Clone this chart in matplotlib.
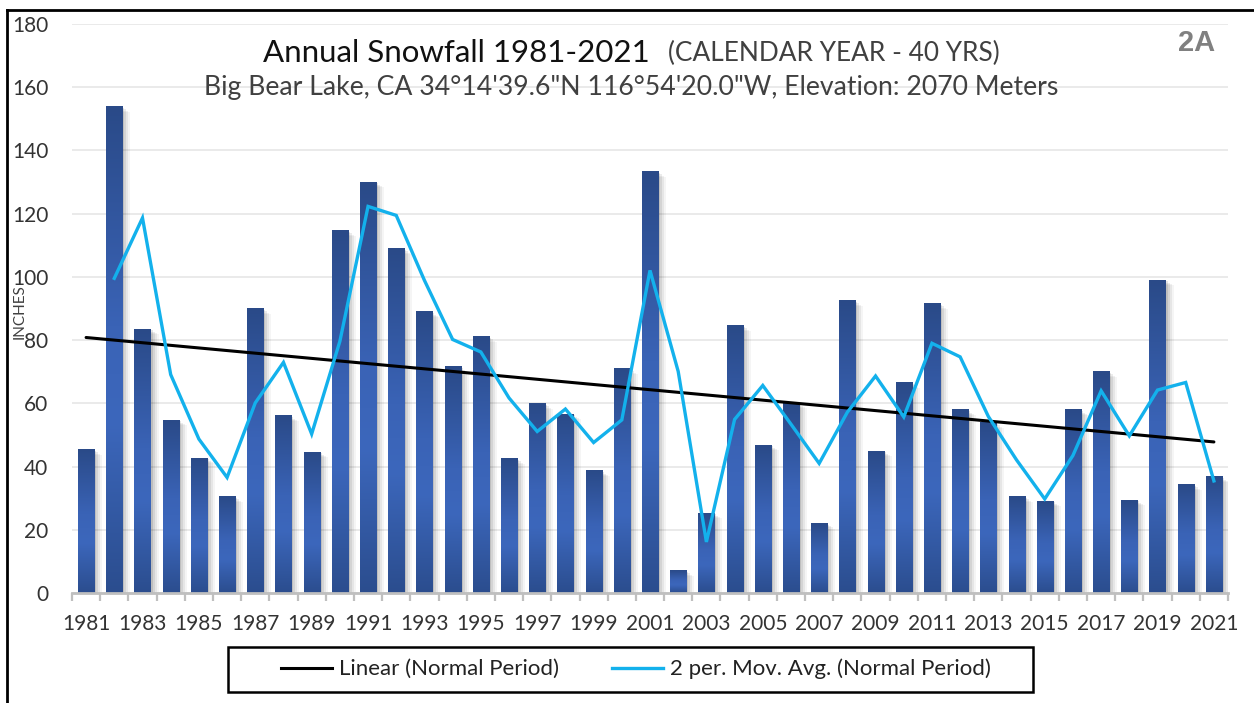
import numpy as np
import pandas as pd
import matplotlib
matplotlib.use("Agg")
import matplotlib.pyplot as plt
from matplotlib.colors import LinearSegmentedColormap
from matplotlib.lines import Line2D
from matplotlib.patches import Rectangle

# ---------------- data ----------------
years = list(range(1981, 2022))
snowfall = [45.3, 153.8, 83.5, 54.7, 42.7, 30.4, 89.9, 56.0, 44.6, 114.6,
            130.0, 108.9, 88.9, 71.5, 81.0, 42.4, 59.8, 56.6, 38.6, 70.9,
            133.2, 7.0, 25.3, 84.5, 46.8, 60.0, 22.0, 92.4, 44.9, 66.5,
            91.5, 57.9, 53.8, 30.4, 29.1, 57.9, 70.0, 29.4, 99.0, 34.2,
            36.7]
tick_years = list(range(1981, 2022, 2))
y_ticks = list(range(0, 181, 20))

title_main = "Annual Snowfall 1981-2021"
title_paren = "(CALENDAR YEAR - 40 YRS)"
subtitle = "Big Bear Lake, CA 34°14'39.6\"N 116°54'20.0\"W, Elevation: 2070 Meters"
legend_labels = ["Linear (Normal Period)", "2 per. Mov. Avg. (Normal Period)"]

# derived series (as Excel trendlines do)
s = pd.Series(snowfall, index=years)
mov_avg = s.rolling(2).mean()
coef = np.polyfit(years, snowfall, 1)
trend = np.polyval(coef, years)

# ---------------- figure ----------------
W, H = 1254, 703
plt.rcParams['font.family'] = ['Lato', 'DejaVu Sans']
fig = plt.figure(figsize=(W / 100, H / 100), dpi=100)
fig.patch.set_facecolor('white')

def fx(px):
    return px / W

def fy(py):
    return 1 - py / H

ax = fig.add_axes([fx(72), fy(593), fx(1228) - fx(72), fy(24) - fy(593)])
ax.set_xlim(1980.5, 2021.5)
ax.set_ylim(0, 180)

# gridlines
ax.set_yticks(y_ticks)
ax.yaxis.grid(True, color='#E4E4E4', linewidth=1.1, zorder=0)
ax.set_axisbelow(True)

# bars with vertical gradient and soft shadow
bw = 0.57
cmap = LinearSegmentedColormap.from_list(
    'bar', [(0.0, '#2B4D8E'), (0.35, '#3C67BC'), (0.55, '#3A63B6'), (1.0, '#2A4A88')])
grad = np.linspace(0, 1, 256).reshape(-1, 1)
px = 1 / 28.2
for k, (dx, a) in enumerate([(2, 0.10), (4, 0.08), (6, 0.06), (8, 0.04)]):
    ax.bar(years, [max(v - (k + 1) * 0.4, 0) for v in snowfall], width=bw,
           color='black', alpha=a, zorder=1.5, linewidth=0)
    for b in ax.patches[-len(years):]:
        b.set_x(b.get_x() + dx * px)
bars = ax.bar(years, snowfall, width=bw, color='#3560A8', zorder=2, linewidth=0)
for b in bars:
    x0, h = b.get_x(), b.get_height()
    ax.imshow(grad, extent=[x0, x0 + bw, 0, h], origin='lower',
              aspect='auto', cmap=cmap, zorder=2.1, interpolation='bicubic')
ax.set_xlim(1980.5, 2021.5)
ax.set_ylim(0, 180)

# trend lines
ax.plot(years, trend, color='black', linewidth=2.2, zorder=4,
        solid_capstyle='round')
ax.plot(mov_avg.index, mov_avg.values, color='#13B1EC', linewidth=2.4, zorder=5,
        solid_joinstyle='miter')

# axes styling
for sp in ['top', 'right', 'left']:
    ax.spines[sp].set_visible(False)
ax.spines['bottom'].set_color('#BFBFBF')
ax.spines['bottom'].set_linewidth(2.0)
ax.spines['bottom'].set_zorder(6)

ax.set_xticks(tick_years)
ax.set_xticklabels([str(y) for y in tick_years])
ax.set_xticks(np.arange(1980.5, 2022, 1.0), minor=True)
ax.tick_params(axis='x', which='major', length=0, pad=15, labelsize=15,
               labelcolor='#333333')
ax.tick_params(axis='x', which='minor', length=6, width=1.6, color='#BFBFBF')
ax.tick_params(axis='y', length=0, pad=17, labelsize=15, labelcolor='#333333')

fig.text(fx(20), fy(312), 'INCHES', rotation=90, ha='center', va='center',
         fontsize=11, color='#404040')

# titles
fig.text(fx(650), fy(53), title_main, ha='right', va='center', fontsize=22.5,
         color='#111111')
fig.text(fx(668), fy(53), title_paren, ha='left', va='center', fontsize=18.9,
         color='#404040')
fig.text(fx(631), fy(88), subtitle, ha='center', va='center', fontsize=19.2,
         color='#404040')
fig.text(fx(1197), fy(43), '2A', ha='center', va='center', fontsize=21,
         color='#808080', fontweight='bold', family=['Liberation Sans', 'DejaVu Sans'])

# legend
handles = [Line2D([], [], color='black', linewidth=2.2),
           Line2D([], [], color='#13B1EC', linewidth=2.4)]
fig.legend(handles, legend_labels, loc='center', ncol=2, frameon=False,
           bbox_to_anchor=(fx(636), fy(669)), fontsize=16,
           handlelength=2.3, handletextpad=0.3, columnspacing=2.39,
           labelcolor='#222222')
fig.patches.append(Rectangle((fx(228), fy(692)), fx(1033) - fx(228), fy(647) - fy(692),
                             transform=fig.transFigure, fill=False,
                             edgecolor='black', linewidth=1.8))

# outer border (left and top)
fig.add_artist(Line2D([fx(7), fx(7)], [fy(10), 0], transform=fig.transFigure,
                      color='black', linewidth=2.0))
fig.add_artist(Line2D([fx(7), 1], [fy(10), fy(10)], transform=fig.transFigure,
                      color='black', linewidth=2.0))

fig.savefig('out.png', dpi=100, facecolor='white')
